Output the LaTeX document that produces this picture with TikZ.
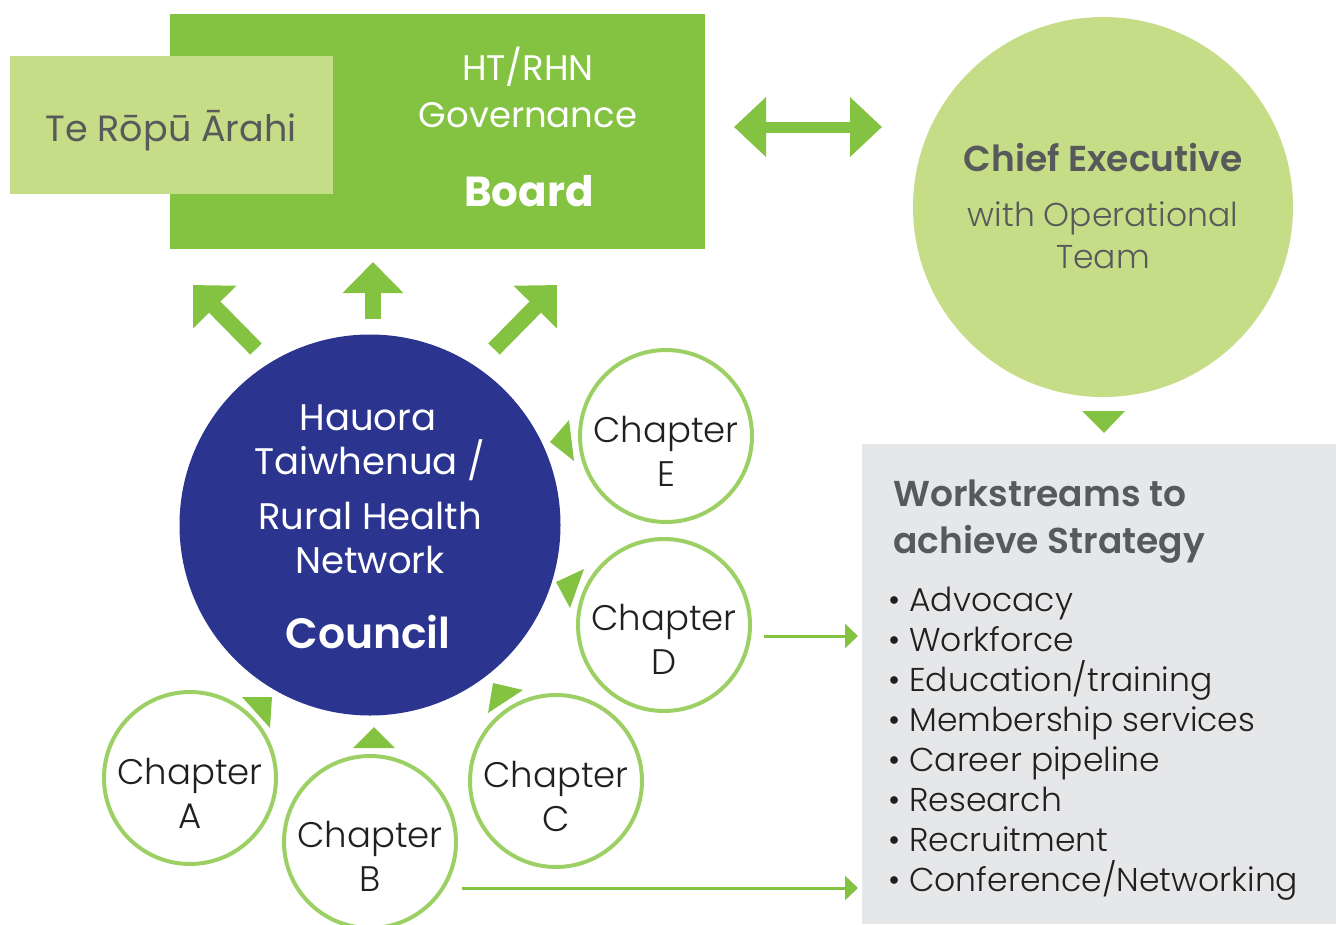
\documentclass[tikz,border=0pt]{standalone}
\usepackage{fontspec}
\setmainfont{Poppins}
\newfontfamily\lightf{Poppins Light}
\newfontfamily\semib{Poppins SemiBold}
\usetikzlibrary{arrows.meta}
\definecolor{boardgreen}{RGB}{132,195,65}
\definecolor{palegreen}{RGB}{197,221,134}
\definecolor{navy}{RGB}{43,53,144}
\definecolor{chapgreen}{RGB}{157,208,100}
\definecolor{greytext}{RGB}{88,89,91}
\definecolor{darktext}{RGB}{35,31,32}
\definecolor{boxgrey}{RGB}{230,231,232}
\tikzset{
  txt/.style={inner sep=0pt, anchor=base},
  chapcircle/.style={circle, draw=chapgreen, line width=4pt, fill=white, minimum size=172pt, inner sep=0pt},
  chaptxt/.style={txt, text=darktext, font=\lightf\fontsize{35.5}{40}\selectfont},
  fatarrow/.style={draw=boardgreen, line width=16pt, -{Triangle[length=31pt,width=59pt]}},
  dblarrow/.style={draw=boardgreen, line width=11pt, {Triangle[length=32pt,width=58pt]}-{Triangle[length=32pt,width=58pt]}},
  thinarrow/.style={draw=boardgreen, line width=3pt, -{Triangle[length=13pt,width=24pt]}},
  tri/.style={fill=boardgreen},
  bullet/.style={txt, anchor=base west, text=darktext, font=\lightf\fontsize{33}{38}\selectfont}
}
\begin{document}
\begin{tikzpicture}[x=1pt,y=-1pt]
\useasboundingbox (0,0) rectangle (1336,924);

% Board
\node[fill=boardgreen, minimum width=535pt, minimum height=235pt, inner sep=0pt] (board) at (437.5,131.5) {};
\node[fill=palegreen, minimum width=323pt, minimum height=138pt, inner sep=0pt] (rangi) at (171.5,125) {};
\node[txt, text=greytext, font=\fontsize{36.5}{40}\selectfont] (rangit) at (171,141) {Te Rōpū Ārahi};
\node[txt, text=white, font=\fontsize{35.5}{40}\selectfont] (b1) at (528,80) {HT/RHN};
\node[txt, text=white, font=\fontsize{35.5}{40}\selectfont] (b2) at (528,127) {Governance};
\node[txt, text=white, font=\bfseries\fontsize{42}{46}\selectfont] (b3) at (529,206) {Board};

% Chief executive
\node[circle, fill=palegreen, minimum size=380pt, inner sep=0pt] (ceo) at (1103,207) {};
\node[txt, text=greytext, font=\semib\fontsize{36}{40}\selectfont] (c1) at (1103,171) {Chief Executive};
\node[txt, text=greytext, font=\lightf\fontsize{33}{38}\selectfont] (c2) at (1103,226) {with Operational};
\node[txt, text=greytext, font=\lightf\fontsize{33}{38}\selectfont] (c3) at (1103,268) {Team};

% double arrow
\coordinate (dl) at (734,127);
\coordinate (dr) at (882,127);
\draw[dblarrow] (dl) -- (dr);

% down triangle
\fill[tri] (1082,411) -- (1125,411) -- (1104,433) -- cycle;

% Workstreams box
\node[fill=boxgrey, minimum width=474pt, minimum height=480pt, inner sep=0pt, anchor=north west] (ws) at (862,444) {};
\node[txt, anchor=base west, text=greytext, font=\semib\fontsize{36}{40}\selectfont] (w1) at (893,506) {Workstreams to};
\node[txt, anchor=base west, text=greytext, font=\semib\fontsize{36}{40}\selectfont] (w2) at (893,553) {achieve Strategy};
\node[bullet] (l1) at (888,611) {• Advocacy};
\node[bullet] (l2) at (888,651) {• Workforce};
\node[bullet] (l3) at (888,691) {• Education/training};
\node[bullet] (l4) at (888,731) {• Membership services};
\node[bullet] (l5) at (888,771) {• Career pipeline};
\node[bullet] (l6) at (888,811) {• Research};
\node[bullet] (l7) at (888,851) {• Recruitment};
\node[bullet] (l8) at (888,891) {• Conference/Networking};

% Council
\node[circle, fill=navy, minimum size=381pt, inner sep=0pt] (council) at (370,525) {};
\node[txt, text=white, font=\fontsize{37}{40}\selectfont] (n1) at (368,430) {Hauora};
\node[txt, text=white, font=\fontsize{37}{40}\selectfont] (n2) at (370,474) {Taiwhenua /};
\node[txt, text=white, font=\fontsize{37}{40}\selectfont] (n3) at (370,529) {Rural Health};
\node[txt, text=white, font=\fontsize{37}{40}\selectfont] (n4) at (370,573) {Network};
\node[txt, text=white, font=\semib\fontsize{42.5}{48}\selectfont] (n5) at (368,648) {Council};

% up arrows
\coordinate (u1s) at (256,349); \coordinate (u1e) at (193,285);
\coordinate (u2s) at (373,319); \coordinate (u2e) at (373,262);
\coordinate (u3s) at (494,349); \coordinate (u3e) at (557,285);
\draw[fatarrow] (u1s) -- (u1e);
\draw[fatarrow] (u2s) -- (u2e);
\draw[fatarrow] (u3s) -- (u3e);

% Chapters
\node[chapcircle] (chE) at (666,436) {};
\node[chapcircle] (chD) at (664,625) {};
\node[chapcircle] (chC) at (556,781) {};
\node[chapcircle] (chA) at (190,778) {};
\node[chapcircle] (chB) at (370,842) {};
\node[chaptxt] (tE1) at (666,442) {Chapter}; \node[chaptxt] (tE2) at (666,486) {E};
\node[chaptxt] (tD1) at (664,630) {Chapter}; \node[chaptxt] (tD2) at (664,674) {D};
\node[chaptxt] (tC1) at (556,787) {Chapter}; \node[chaptxt] (tC2) at (556,831) {C};
\node[chaptxt] (tA1) at (190,784) {Chapter}; \node[chaptxt] (tA2) at (190,828) {A};
\node[chaptxt] (tB1) at (370,847) {Chapter}; \node[chaptxt] (tB2) at (370,891) {B};

% small triangles
\fill[tri] (550,442) -- (569,420) -- (574,461) -- cycle;
\fill[tri] (556,582) -- (584,569) -- (570,608) -- cycle;
\fill[tri] (493,683) -- (523,690) -- (488,713) -- cycle;
\fill[tri] (242,697) -- (272,697) -- (270,728) -- cycle;
\fill[tri] (374,727) -- (353,748) -- (395,748) -- cycle;

% thin arrows
\coordinate (dS) at (764,636); \coordinate (dE) at (858,636);
\coordinate (bS) at (462,888); \coordinate (bE) at (858,888);
\draw[thinarrow] (dS) -- (dE);
\draw[thinarrow] (bS) -- (bE);
\end{tikzpicture}
\end{document}
